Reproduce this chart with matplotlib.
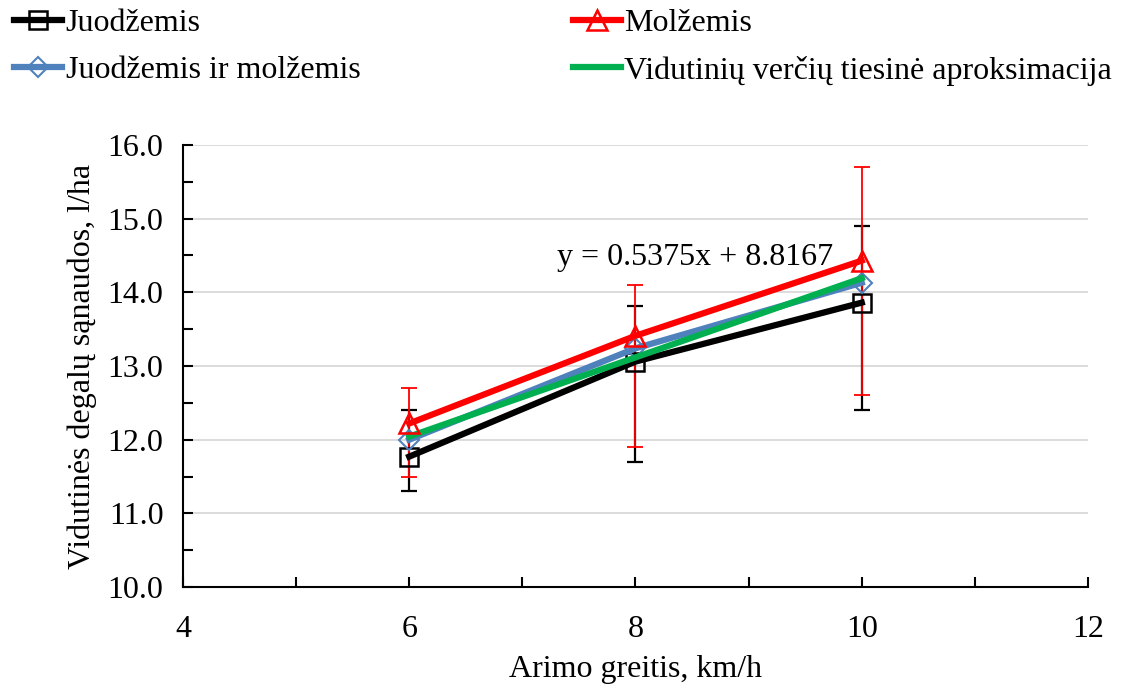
import numpy as np
import matplotlib
matplotlib.use('Agg')
import matplotlib.pyplot as plt
from matplotlib.ticker import MultipleLocator, FormatStrFormatter

# Data
speed = [6, 8, 10]

juod = [11.77, 13.06, 13.86]
juod_lo = [11.30, 11.70, 12.40]
juod_hi = [12.40, 13.82, 14.90]

mol = [12.22, 13.41, 14.43]
mol_lo = [11.50, 11.90, 12.60]
mol_hi = [12.70, 14.10, 15.70]

both = [12.00, 13.24, 14.13]

trend_slope = 0.5375
trend_icpt = 8.8167

labels = ['Juodžemis', 'Molžemis', 'Juodžemis ir molžemis',
          'Vidutinių verčių tiesinė aproksimacija']

plt.rcParams['font.family'] = ['Liberation Serif', 'DejaVu Serif']
plt.rcParams['font.size'] = 23

fig = plt.figure(figsize=(11.33, 6.89), dpi=100)
ax = fig.add_axes([0.1615, 0.148, 0.7988, 0.6416])

x = np.array(speed)

# error bars (drawn first, under the lines)
ax.errorbar(x, juod, yerr=[np.array(juod) - juod_lo, np.array(juod_hi) - juod],
            fmt='none', ecolor='black', elinewidth=1.6, capsize=6, capthick=1.6, zorder=2)
ax.errorbar(x, mol, yerr=[np.array(mol) - mol_lo, np.array(mol_hi) - mol],
            fmt='none', ecolor='#ff0000', elinewidth=1.3, capsize=6, capthick=1.3, zorder=2)

h1, = ax.plot(x, juod, color='black', lw=4.5, marker='s', ms=13, mfc='none',
              mec='black', mew=1.8, zorder=3)
h2, = ax.plot(x, mol, color='#ff0000', lw=4.5, marker='^', ms=14, mfc='none',
              mec='#ff0000', mew=1.8, zorder=5)
h3, = ax.plot(x, both, color='#4f81bd', lw=4.5, marker='D', ms=10, mfc='none',
              mec='#4f81bd', mew=1.5, zorder=3)
h4, = ax.plot(x, trend_slope * x + trend_icpt, color='#00b050', lw=4.5, zorder=4)

ax.text(8.53, 14.47, 'y = 0.5375x + 8.8167', ha='center', va='center')

ax.set_xlim(4, 12)
ax.set_ylim(10, 16)
ax.xaxis.set_major_locator(MultipleLocator(2))
ax.xaxis.set_minor_locator(MultipleLocator(1))
ax.yaxis.set_major_locator(MultipleLocator(1))
ax.yaxis.set_minor_locator(MultipleLocator(0.5))
ax.yaxis.set_major_formatter(FormatStrFormatter('%.1f'))
ax.tick_params(which='both', direction='in', length=7, width=1.5)
ax.tick_params(axis='y', pad=14)
ax.tick_params(axis='x', pad=20)

ax.grid(axis='y', color='#d9d9d9', lw=1.3)
ax.set_axisbelow(True)
for s in ['top', 'right']:
    ax.spines[s].set_visible(False)
for s in ['left', 'bottom']:
    ax.spines[s].set_linewidth(1.5)

ax.set_xlabel('Arimo greitis, km/h', labelpad=8)
ax.set_ylabel('Vidutinės degalų sąnaudos, l/ha', labelpad=8)

fig.legend([h1, h3, h2, h4], [labels[0], labels[2], labels[1], labels[3]],
           loc='upper left', bbox_to_anchor=(-0.007, 1.02), ncol=2, frameon=False,
           handlelength=1.5, handletextpad=0.1, columnspacing=6.65, labelspacing=0.55,
           borderaxespad=0.3)

fig.savefig('out.png', dpi=100)
